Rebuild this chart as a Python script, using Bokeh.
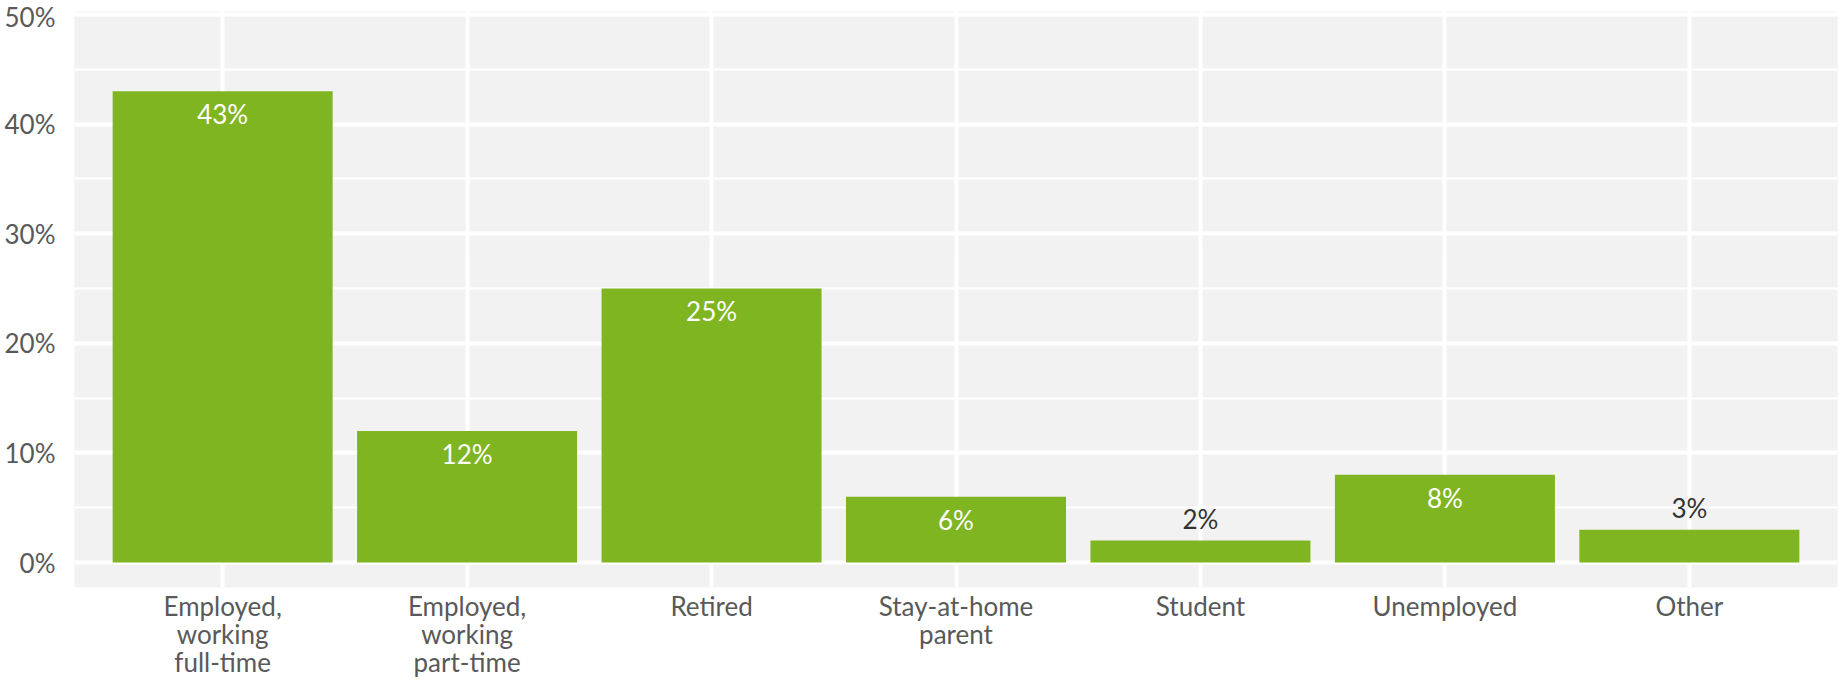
from bokeh.plotting import figure
from bokeh.models import Range1d, FixedTicker, ColumnDataSource
from bokeh.core.properties import value
from bokeh.embed import file_html
from bokeh.resources import INLINE

categories = ["Employed,\nworking\nfull-time", "Employed,\nworking\npart-time", "Retired",
              "Stay-at-home\nparent", "Student", "Unemployed", "Other"]
shares = [43, 12, 25, 6, 2, 8, 3]
y_ticks = [0, 10, 20, 30, 40, 50]
y_minor = [5, 15, 25, 35, 45]

BAR = "#80B522"
FONT = "Lato"

xs = list(range(len(categories)))
p = figure(width=1838, height=682, output_backend="svg", toolbar_location=None,
           x_range=Range1d(-0.606, len(categories) - 1 + 0.606),
           y_range=Range1d(-2.28, 50.27),
           min_border_left=74, min_border_right=1, min_border_top=11, min_border_bottom=95)
p.background_fill_color = "#F2F2F2"
p.border_fill_color = "white"
p.outline_line_color = None

p.vbar(x=xs, top=shares, bottom=0, width=0.9, color=BAR, line_color=None)

inside = [v >= 4 for v in shares]
src = ColumnDataSource(dict(
    x=xs,
    y=shares,
    label=[f"{v}%" for v in shares],
    color=["white" if i else "#333333" for i in inside],
    off=[23 if i else -22 for i in inside],
))
p.text(x="x", y="y", text="label", source=src, text_color="color", y_offset="off",
       text_align="center", text_baseline="middle", text_font=value(FONT),
       text_font_size="26px")

p.xaxis.ticker = FixedTicker(ticks=xs)
p.xaxis.major_label_overrides = {i: c for i, c in enumerate(categories)}
p.yaxis.ticker = FixedTicker(ticks=y_ticks, minor_ticks=y_minor)
p.yaxis.major_label_overrides = {t: f"{t}%" for t in y_ticks}

for ax in (p.xaxis, p.yaxis):
    ax.axis_line_color = None
    ax.major_tick_line_color = None
    ax.minor_tick_line_color = None
    ax.major_label_text_font = FONT
    ax.major_label_text_font_size = "26px"
    ax.major_label_text_color = "#595959"
p.xaxis.major_label_text_line_height = 0.88
p.xaxis.major_label_standoff = -4
p.yaxis.major_label_standoff = 13

p.xgrid.ticker = FixedTicker(ticks=xs)
p.xgrid.grid_line_color = "white"
p.xgrid.grid_line_width = 4
p.ygrid.grid_line_color = "white"
p.ygrid.grid_line_width = 4
p.ygrid.minor_grid_line_color = "white"
p.ygrid.minor_grid_line_width = 2

open("out.html", "w").write(file_html(p, INLINE))
